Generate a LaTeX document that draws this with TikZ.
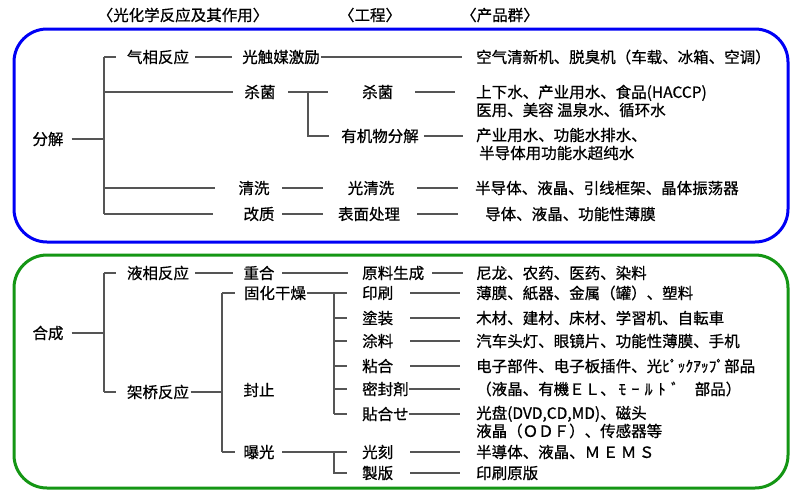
\documentclass[tikz,border=0pt]{standalone}
\usepackage{fontspec}
\setmainfont{Noto Sans CJK SC}[FakeBold=0.7]
\definecolor{boxblue}{RGB}{0,0,245}
\definecolor{boxgreen}{RGB}{20,150,20}
\definecolor{linegray}{RGB}{85,85,85}
\newcommand{\hwk}[1]{\makebox[0.85em][c]{#1}}
\begin{document}
\begin{tikzpicture}[x=1pt,y=-1pt,
  txt/.style={inner sep=0pt, font=\fontsize{15.5}{18}\selectfont, text=black},
  prod/.style={txt, anchor=west, align=left},
  ln/.style={draw=linegray, line width=1.4pt},
  frame/.style={line width=3pt, rounded corners=33pt}]
\useasboundingbox (0,0) rectangle (800,496);
\fill[white] (0,0) rectangle (800,496);

% headers
\node[txt] (h1) at (183,15) {〈光化学反应及其作用〉};
\node[txt] (h2) at (370,15) {〈工程〉};
\node[txt] (h3) at (500,15) {〈产品群〉};

% frames
\draw[frame, draw=boxblue] (14,29) rectangle (788,242);
\draw[frame, draw=boxgreen] (14,255) rectangle (788,488);

% ===== top box =====
\node[txt] (fj) at (48,139) {分解};
\coordinate (b1t) at (104,57);
\coordinate (b1b) at (104,214);
\node[txt] (qx) at (158,57) {气相反应};
\node[txt] (gcm) at (281,57) {光触媒激励};
\node[prod] (p1) at (476,57) {空气清新机、脱臭机（车载、冰箱、空调）};
\node[txt] (sj1) at (260,92) {杀菌};
\node[txt, anchor=west] (sj2) at (362,92) {杀菌};
\node[prod] (p2) at (476,101) {上下水、产业用水、食品(HACCP)\\医用、美容 温泉水、循环水};
\coordinate (j1) at (308,92);
\node[txt] (yj) at (380,136) {有机物分解};
\node[prod] (p3) at (476,144) {产业用水、功能水排水、\\\hspace{3pt}半导体用功能水超纯水};
\node[txt] (qx2) at (254,188) {清洗};
\node[txt] (gqx) at (371,188) {光清洗};
\node[prod] (p4) at (475,188) {半导体、液晶、引线框架、晶体振荡器};
\node[txt] (gz) at (259,214) {改质};
\node[txt] (bm) at (369,214) {表面处理};
\node[prod] (p5) at (485,214) {导体、液晶、功能性薄膜};

\draw[ln] (b1t) -- (b1b);
\draw[ln, shorten <=8pt] (fj.east) -- (fj.east -| b1t);
\draw[ln, shorten >=10.5pt] (b1t) -- (qx.west);
\draw[ln, shorten <=6pt, shorten >=10pt] (qx.east) -- (gcm.west);
\draw[ln, shorten <=1pt, shorten >=14pt] (gcm.east) -- (p1.west);
\draw[ln, shorten >=11.5pt] (sj1.west -| b1t) -- (sj1.west);
\draw[ln, shorten <=12.5pt, shorten >=34pt] (sj1.east) -- (sj2.west);
\draw[ln, shorten <=22pt, shorten >=21pt] (sj2.east) -- (sj2.east -| p2.west);
\draw[ln, shorten >=12pt] (j1) |- (yj.west);
\draw[ln, shorten <=5pt, shorten >=13pt] (yj.east) -- (yj.east -| p3.west);
\draw[ln, shorten >=23.5pt] (qx2.west -| b1t) -- (qx2.west);
\draw[ln, shorten <=12.5pt, shorten >=25pt] (qx2.east) -- (gqx.west);
\draw[ln, shorten <=23pt, shorten >=17pt] (gqx.east) -- (p4.west);
\draw[ln, shorten >=30.5pt] (gz.west -| b1t) -- (gz.west);
\draw[ln, shorten <=7.5pt, shorten >=15pt] (gz.east) -- (bm.west);
\draw[ln, shorten <=17pt, shorten >=27pt] (bm.east) -- (p5.west);

% ===== bottom box =====
\node[txt] (hc) at (48,333) {合成};
\coordinate (b2t) at (104,273);
\coordinate (b2b) at (104,392);
\node[txt] (yx) at (158,273) {液相反应};
\node[txt] (zh) at (259,273) {重合};
\node[txt, anchor=west] (yl) at (362,273) {原料生成};
\node[prod] (p6) at (476,273) {尼龙、农药、医药、染料};
\node[txt] (jq) at (158,392) {架桥反应};
\coordinate (b3t) at (222,293);
\coordinate (b3b) at (222,452);
\node[txt] (gh) at (275,293) {固化干燥};
\node[txt] (fz) at (259,390) {封止};
\node[txt] (bg) at (259,452) {曝光};
\coordinate (b4t) at (334,293);
\coordinate (b4b) at (334,414);
\coordinate (b5) at (334,452);

\node[txt, anchor=west] (yc) at (362,293) {印刷};
\node[txt, anchor=west] (tz) at (362,318) {塗装};
\node[txt, anchor=west] (tl) at (362,341) {涂料};
\node[txt, anchor=west] (nh) at (362,366) {粘合};
\node[txt, anchor=west] (mf) at (362,389) {密封剤};
\node[txt, anchor=west] (th) at (362,414) {貼合せ};
\node[txt, anchor=west] (gk) at (362,452) {光刻};
\node[txt, anchor=west] (zb) at (362,473) {製版};

\node[prod] (p7) at (476,293) {薄膜、紙器、金属（罐）、塑料};
\node[prod] (p8) at (476,318) {木材、建材、床材、学習机、自転車};
\node[prod] (p9) at (476,341) {汽车头灯、眼镜片、功能性薄膜、手机};
\node[prod] (p10) at (476,366) {电子部件、电子板插件、光ﾋﾟｯｸｱｯﾌﾟ部品};
\node[prod] (p11) at (476,389) {（液晶、有機ＥＬ、\hwk{ﾓ}\hwk{ｰ}\hwk{ﾙ}\hwk{ﾄ}\hwk{ﾞ}\hwk{}部品）};
\node[prod] (p12) at (476,422) {光盘(DVD,CD,MD)、磁头\\液晶（ＯＤＦ）、传感器等};
\node[prod] (p13) at (476,452) {半導体、液晶、Ｍ\,Ｅ\,Ｍ\,Ｓ};
\node[prod] (p14) at (476,473) {印刷原版};

\draw[ln] (b2t) -- (b2b);
\draw[ln, shorten <=8pt] (hc.east) -- (hc.east -| b2t);
\draw[ln, shorten >=10.5pt] (b2t) -- (yx.west);
\draw[ln, shorten >=10.5pt] (b2b) -- (jq.west);
\draw[ln, shorten <=6pt, shorten >=10.5pt] (yx.east) -- (zh.west);
\draw[ln, shorten <=7.5pt, shorten >=14pt] (zh.east) -- (yl.west);
\draw[ln, shorten <=8pt, shorten >=13pt] (yl.east) -- (p6.west);
\draw[ln, shorten <=1.5pt] (jq.east) -- (jq.east -| b3t);
\draw[ln] (b3t) -- (b3b);
\draw[ln, shorten >=9pt] (b3t) -- (gh.west);
\draw[ln, shorten >=8.5pt] (b3b) -- (bg.west);
\draw[ln, shorten <=0.5pt, shorten >=15pt] (gh.east) -- (yc.west);
\draw[ln] (b4t) -- (b4b);
\foreach \n in {tz,tl,nh,mf,th}
  \draw[ln, shorten >=15pt] (\n.west -| b4t) -- (\n.west);
\draw[ln, shorten <=7.5pt, shorten >=15pt] (bg.east) -- (gk.west);
\draw[ln, shorten >=15pt] (b5) |- (zb.west);
\foreach \a/\b/\s in {yc/p7/17pt, tz/p8/17pt, tl/p9/17pt, nh/p10/17pt, mf/p11/0pt, th/p12/0pt, gk/p13/17pt, zb/p14/17pt}
  \draw[ln, shorten <=\s, shorten >=16pt] (\a.east) -- (\a.east -| \b.west);
\end{tikzpicture}
\end{document}
